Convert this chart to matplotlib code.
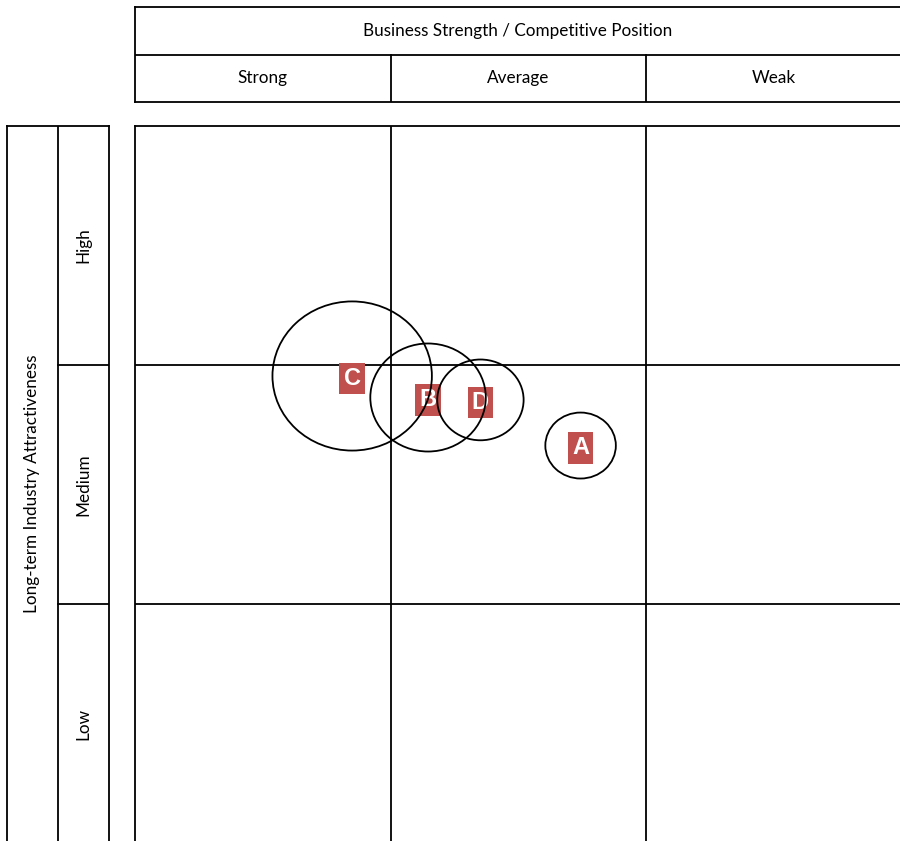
"""GE / McKinsey nine-box matrix with business units as bubbles."""

import matplotlib.pyplot as plt
from matplotlib.patches import Circle

plt.rcParams['font.family'] = ['Lato', 'DejaVu Sans']

col_labels = ["Strong", "Average", "Weak"]
row_labels = ["Low", "Medium", "High"]
x_title = "Business Strength / Competitive Position"
y_title = "Long-term Industry Attractiveness"

# Business units: position in the grid (cells are 1 unit wide) and bubble size
units = ["C", "B", "D", "A"]
unit_x = [0.85, 1.147, 1.352, 1.744]
unit_y = [1.954, 1.864, 1.854, 1.663]
unit_r = [0.312, 0.226, 0.169, 0.138]

W, H = 900, 841
fig = plt.figure(figsize=(W / 100, H / 100), dpi=100)


def px_axes(x0, y0, x1, y1):
    """Axes placed by pixel edges measured from the top-left corner."""
    return fig.add_axes([x0 / W, (H - y1) / H, (x1 - x0) / W, (y1 - y0) / H])


lw = 1.3
fs = 12.3

# main grid
ax = px_axes(135, 126, 901.5, 843)
ax.set_xlim(0, 3)
ax.set_ylim(0, 3)
ax.set_xticks([])
ax.set_yticks([])
for s in ax.spines.values():
    s.set_linewidth(lw)
for v in (1, 2):
    ax.axvline(v, color="black", lw=lw)
    ax.axhline(v, color="black", lw=lw)

for name, x, y, r in zip(units, unit_x, unit_y, unit_r):
    ax.add_patch(Circle((x, y), r, fill=False, edgecolor="black", lw=lw, zorder=4))
    ax.text(x, y - 0.01, name, ha="center", va="center", color="white",
            fontsize=17, fontweight="bold", family=["Liberation Sans", "DejaVu Sans"],
            bbox=dict(boxstyle="square,pad=0.18", fc="#C0504D", ec="none"), zorder=3)

# column header
hx = px_axes(135, 7, 901.5, 102)
hx.set_xlim(0, 3)
hx.set_ylim(0, 2)
hx.set_xticks([])
hx.set_yticks([])
for s in hx.spines.values():
    s.set_linewidth(lw)
hx.axhline(1, color="black", lw=lw)
for v in (1, 2):
    hx.plot([v, v], [0, 1], color="black", lw=lw)
hx.text(765 / 2 / 255.5, 1.5, x_title, ha="center", va="center", fontsize=fs)
for i, lab in enumerate(col_labels):
    hx.text(i + 0.5, 0.5, lab, ha="center", va="center", fontsize=fs)

# row header
vx = px_axes(7, 126, 109, 843)
vx.set_xlim(0, 2)
vx.set_ylim(0, 3)
vx.set_xticks([])
vx.set_yticks([])
for s in vx.spines.values():
    s.set_linewidth(lw)
vx.axvline(1, color="black", lw=lw)
for v in (1, 2):
    vx.plot([1, 2], [v, v], color="black", lw=lw)
vx.text(0.5, 3 - 357.5 / 239, y_title, ha="center", va="center",
        rotation=90, fontsize=fs)
for i, lab in enumerate(row_labels):
    vx.text(1.5, i + 0.5, lab, ha="center", va="center", rotation=90, fontsize=fs)

fig.savefig("out.png", dpi=100)
